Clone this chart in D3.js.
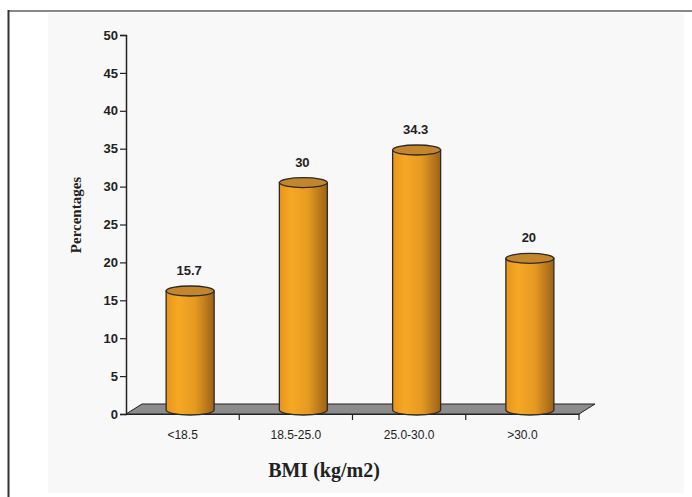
<!DOCTYPE html>
<html>
<head>
<meta charset="utf-8">
<script src="https://cdn.jsdelivr.net/npm/d3@7"></script>
<style>
  body { margin: 0; background: #fff; }
  svg { display: block; }
  .tick-label { font-family: Arial, "Liberation Sans", sans-serif; font-weight: bold; font-size: 13px; fill: #222; }
  .cat-label { font-family: Arial, "Liberation Sans", sans-serif; font-size: 12px; fill: #222; }
  .val-label { font-family: Arial, "Liberation Sans", sans-serif; font-weight: bold; font-size: 13px; fill: #222; }
  .title { font-family: "Times New Roman", "Liberation Serif", serif; font-weight: bold; fill: #222; }
</style>
</head>
<body>
<script>
var categories = ['<18.5', '18.5-25.0', '25.0-30.0', '>30.0'];
var values = [15.7, 30, 34.3, 20];
var valueLabels = ['15.7', '30', '34.3', '20'];
var yTicks = [0, 5, 10, 15, 20, 25, 30, 35, 40, 45, 50];

var width = 692;
var height = 497;

var svg = d3.select('body').append('svg')
  .attr('width', width)
  .attr('height', height);

var defs = svg.append('defs');
var grad = defs.append('linearGradient').attr('id', 'cyl');
grad.append('stop').attr('offset', '0%').attr('stop-color', '#e8941a');
grad.append('stop').attr('offset', '25%').attr('stop-color', '#f6a824');
grad.append('stop').attr('offset', '60%').attr('stop-color', '#e69a22');
grad.append('stop').attr('offset', '100%').attr('stop-color', '#9c6218');

// frame
svg.append('rect').attr('x', 48).attr('y', 13).attr('width', 636).attr('height', 480).attr('fill', '#f8f8f8');
svg.append('line').attr('x1', 8).attr('y1', 11).attr('x2', width).attr('y2', 11)
  .attr('stroke', '#888').attr('stroke-width', 2);
svg.append('line').attr('x1', 8.5).attr('y1', 10).attr('x2', 8.5).attr('y2', height)
  .attr('stroke', '#333').attr('stroke-width', 2);

var y = d3.scaleLinear().domain([0, 50]).range([414, 35]);
var x = d3.scaleBand().domain(categories).range([126, 579]);

// floor
var fx0 = 126, fx1 = 579, fy = y(0), dx = 16, dy = 10;
svg.append('path')
  .attr('d', 'M' + fx0 + ',' + fy + 'L' + (fx0 + dx) + ',' + (fy - dy) +
    'L' + (fx1 + dx) + ',' + (fy - dy) + 'L' + fx1 + ',' + fy + 'Z')
  .attr('fill', '#8c8c8c')
  .attr('stroke', '#222')
  .attr('stroke-width', 1);

// y axis
var yAxis = svg.append('g').attr('transform', 'translate(126,0)')
  .call(d3.axisLeft(y).tickValues(yTicks).tickSize(6).tickPadding(2));
yAxis.select('.domain').attr('stroke', '#222').attr('stroke-width', 1.5);
yAxis.selectAll('.tick line').attr('stroke', '#222').attr('stroke-width', 1.2);
yAxis.selectAll('.tick text').attr('class', 'tick-label').attr('fill', null);

// x axis
var xAxis = svg.append('g').attr('transform', 'translate(0,' + fy + ')')
  .call(d3.axisBottom(x).tickSize(0).tickPadding(16));
xAxis.select('.domain').attr('stroke', '#222').attr('stroke-width', 1.2);
xAxis.selectAll('.tick text').attr('class', 'cat-label').attr('fill', null);
svg.append('g').selectAll('line')
  .data(categories)
  .enter().append('line')
    .attr('x1', function(d) { return x(d) + x.bandwidth(); })
    .attr('x2', function(d) { return x(d) + x.bandwidth(); })
    .attr('y1', fy)
    .attr('y2', fy + 6)
    .attr('stroke', '#222')
    .attr('stroke-width', 1.2);

// cylinders
var rx = 24, ry = 5, shift = 7.5, baseY = fy - 4;
var bars = svg.append('g').selectAll('g')
  .data(values)
  .enter().append('g');

function cx(d, i) { return x(categories[i]) + x.bandwidth() / 2 + shift; }
function topY(d) { return y(d) - 4; }

bars.append('path')
  .attr('d', function(d, i) {
    var c = cx(d, i), t = topY(d);
    return 'M' + (c - rx) + ',' + t + 'L' + (c - rx) + ',' + baseY +
      'A' + rx + ',' + ry + ' 0 0,0 ' + (c + rx) + ',' + baseY +
      'L' + (c + rx) + ',' + t + 'Z';
  })
  .attr('fill', 'url(#cyl)')
  .attr('stroke', '#2a2a2a')
  .attr('stroke-width', 1.3);

bars.append('ellipse')
  .attr('cx', cx)
  .attr('cy', topY)
  .attr('rx', rx)
  .attr('ry', ry)
  .attr('fill', '#c4862c')
  .attr('stroke', '#2a2a2a')
  .attr('stroke-width', 1.3);

bars.append('text')
  .attr('class', 'val-label')
  .attr('x', function(d, i) { return cx(d, i) - 1; })
  .attr('y', function(d) { return y(d) - 20; })
  .attr('text-anchor', 'middle')
  .text(function(d, i) { return valueLabels[i]; });

// titles
svg.append('text')
  .attr('class', 'title')
  .attr('x', 324)
  .attr('y', 477)
  .attr('text-anchor', 'middle')
  .style('font-size', '20px')
  .text('BMI (kg/m2)');

svg.append('text')
  .attr('class', 'title')
  .attr('transform', 'translate(81,215) rotate(-90)')
  .attr('text-anchor', 'middle')
  .style('font-size', '15px')
  .text('Percentages');
</script>
</body>
</html>
